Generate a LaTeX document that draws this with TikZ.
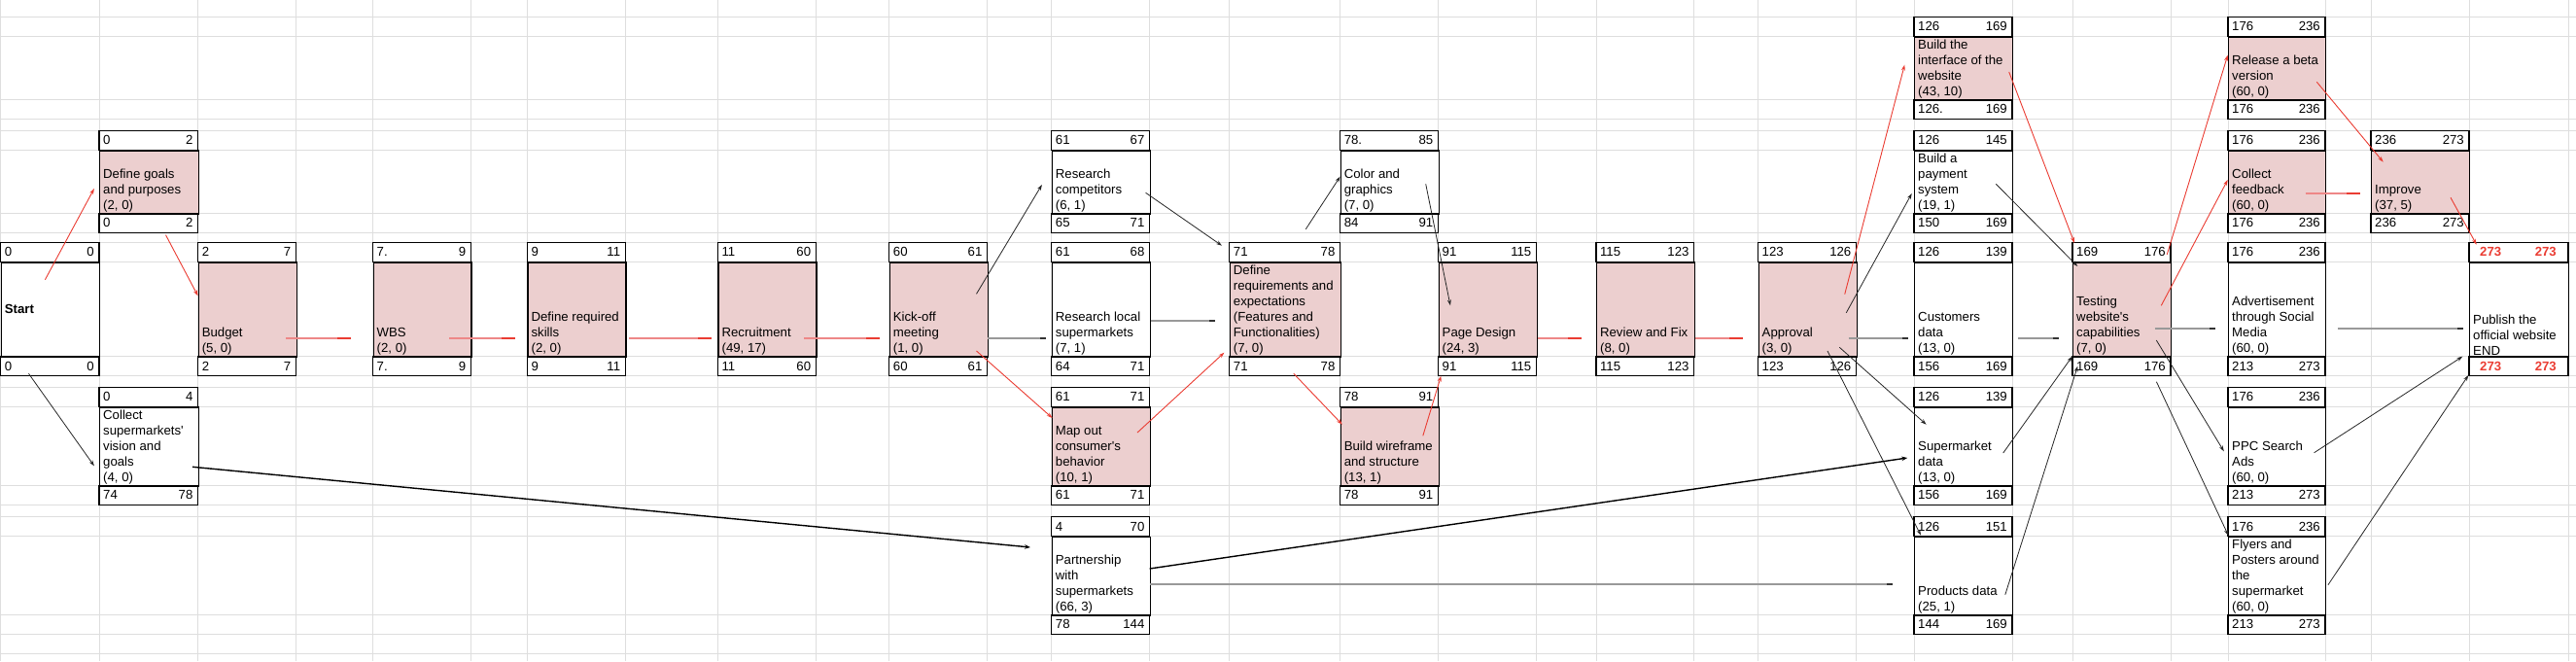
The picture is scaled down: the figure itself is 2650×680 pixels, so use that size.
\documentclass[tikz,border=0pt]{standalone}
\usepackage{fontspec}
\newfontfamily\sheetfont{Liberation Sans}
\usetikzlibrary{arrows.meta}
\definecolor{critfill}{RGB}{236,207,207}
\definecolor{critred}{RGB}{234,60,50}
\definecolor{critlight}{RGB}{238,135,135}
\definecolor{gridgray}{RGB}{222,222,222}
\newcommand{\critnum}{\hspace*{7pt}\textcolor{critred}{\bfseries 273}\hspace*{7pt}}

\begin{document}
\begin{tikzpicture}[x=1pt,y=-1pt,
  box/.style={draw=black,line width=1.2pt},
  num/.style={font=\sheetfont\fontsize{13.2}{16}\selectfont,inner sep=0pt},
  txt/.style={font=\sheetfont\fontsize{13.2}{16}\selectfont,inner sep=0pt,align=left,anchor=south west},
  critthin/.style={critred,line width=0.9pt,-{Stealth[length=6pt,width=4pt]}},
  critthick/.style={critlight,line width=2pt,-{Rectangle[length=14pt,width=2.2pt,color=critred]}},
  flow/.style={black!40,line width=2pt,-{Rectangle[length=6pt,width=2.2pt,color=black!80]}},
  dep/.style={black!85,line width=0.8pt,-{Stealth[length=6pt,width=4pt]}},
  depbold/.style={black,line width=1.4pt,-{Stealth[length=6pt,width=4.5pt]}}]

  \useasboundingbox (0,0) rectangle (2650,680);

  \foreach \gx in {0.5,102,203.6,304.5,383.5,484.4,542.4,643.3,738.4,839.3,914.7,1015.6,1081.7,1182.6,1264.7,1378.6,1479.5,1580.5,1641.9,1742.7,1808.5,1909.5,1969,2070,2132,2233,2292,2392,2439,2540,2642}
    \draw[gridgray,line width=0.8pt] (\gx,0) -- (\gx,680);
  \foreach \gy in {17.3,37.3,102.3,122.3,134.3,154.3,219.3,239.3,249.3,269.3,366.7,386.7,398.3,418.3,499.3,519.3,531.7,551.7,632.3,652.3,672.3}
    \draw[gridgray,line width=0.8pt] (0,\gy) -- (2650,\gy);

  \node[box,fill=white,minimum width=101.3pt,minimum height=97.4pt,anchor=north west,inner sep=0pt] (start) at (0.7,269.3) {};
  \draw[box] (0.7,249.3) rectangle ++(101.3,20);
  \draw[box] (0.7,366.7) rectangle ++(101.3,20);
  \node[num,anchor=west] (start-es) at (4.7,259.3) {0};
  \node[num,anchor=east] (start-ef) at (97,259.3) {0};
  \node[num,anchor=west] (start-ls) at (4.7,376.7) {0};
  \node[num,anchor=east] (start-lf) at (97,376.7) {0};
  \node[num,anchor=west,font=\sheetfont\fontsize{13.2}{16}\selectfont\bfseries] (start-t) at (4.7,318) {Start};

  \foreach \nm/\x/\y/\w/\h/\fc/\es/\ef/\ls/\lf/\lbl in {
    dg/102/134.3/101.6/65/critfill/0/2/0/2/{Define goals\\and purposes\\(2, 0)},
    collect/102/398.3/101.6/81/white/0/4/74/78/{Collect\\supermarkets'\\vision and\\goals\\(4, 0)},
    budget/203.6/249.3/100.9/97.4/critfill/2/7/2/7/{Budget\\(5, 0)},
    wbs/383.5/249.3/100.9/97.4/critfill/7./9/7./9/{WBS\\(2, 0)},
    skills/542.4/249.3/100.9/97.4/critfill/9/11/9/11/{Define required\\skills\\(2, 0)},
    recruit/738.4/249.3/100.9/97.4/critfill/11/60/11/60/{Recruitment\\(49, 17)},
    kickoff/914.7/249.3/100.9/97.4/critfill/60/61/60/61/{Kick-off\\meeting\\(1, 0)},
    rcomp/1081.7/134.3/100.9/65/white/61/67/65/71/{Research\\competitors\\(6, 1)},
    rlocal/1081.7/249.3/100.9/97.4/white/61/68/64/71/{Research local\\supermarkets\\(7, 1)},
    mapout/1081.7/398.3/100.9/81/critfill/61/71/61/71/{Map out\\consumer's\\behavior\\(10, 1)},
    partner/1081.7/531.7/100.9/80.6/white/4/70/78/144/{Partnership\\with\\supermarkets\\(66, 3)},
    defreq/1264.7/249.3/113.9/97.4/critfill/71/78/71/78/{Define\\requirements and\\expectations\\(Features and\\Functionalities)\\(7, 0)},
    color/1378.6/134.3/100.9/65/white/78./85/84/91/{Color and\\graphics\\(7, 0)},
    wire/1378.6/398.3/100.9/81/critfill/78/91/78/91/{Build wireframe\\and structure\\(13, 1)},
    page/1479.5/249.3/101/97.4/critfill/91/115/91/115/{Page Design\\(24, 3)},
    review/1641.9/249.3/100.8/97.4/critfill/115/123/115/123/{Review and Fix\\(8, 0)},
    approval/1808.5/249.3/101/97.4/critfill/123/126/123/126/{Approval\\(3, 0)},
    iface/1969/17.3/101/65/critfill/126/169/126./169/{Build the\\interface of the\\website\\(43, 10)},
    payment/1969/134.3/101/65/white/126/145/150/169/{Build a\\payment\\system\\(19, 1)},
    customers/1969/249.3/101/97.4/white/126/139/156/169/{Customers\\data\\(13, 0)},
    smdata/1969/398.3/101/81/white/126/139/156/169/{Supermarket\\data\\(13, 0)},
    products/1969/531.7/101/80.6/white/126/151/144/169/{Products data\\(25, 1)},
    testing/2132/249.3/101/97.4/critfill/169/176/169/176/{Testing\\website's\\capabilities\\(7, 0)},
    beta/2292/17.3/100/65/critfill/176/236/176/236/{Release a beta\\version\\(60, 0)},
    feedback/2292/134.3/100/65/critfill/176/236/176/236/{Collect\\feedback\\(60, 0)},
    ads/2292/249.3/100/97.4/white/176/236/213/273/{Advertisement\\through Social\\Media\\(60, 0)},
    ppc/2292/398.3/100/81/white/176/236/213/273/{PPC Search\\Ads\\(60, 0)},
    flyers/2292/531.7/100/80.6/white/176/236/213/273/{Flyers and\\Posters around\\the\\supermarket\\(60, 0)},
    improve/2439/134.3/101/65/critfill/236/273/236/273/{Improve\\(37, 5)},
    publish/2540/249.3/102/97.4/white/\critnum/\critnum/\critnum/\critnum/{Publish the\\official website\\END}}
  {
    \node[box,fill=\fc,minimum width=\w pt,minimum height=\h pt,anchor=north west,inner sep=0pt] (\nm) at (\x,\y+20) {};
    \draw[box] (\x,\y) rectangle ++(\w,20);
    \draw[box] (\x,\y+20+\h) rectangle ++(\w,20);
    \node[num,anchor=west] (\nm-es) at (\x+4,\y+10) {\es};
    \node[num,anchor=east] (\nm-ef) at (\x+\w-5,\y+10) {\ef};
    \node[num,anchor=west] (\nm-ls) at (\x+4,\y+30+\h) {\ls};
    \node[num,anchor=east] (\nm-lf) at (\x+\w-5,\y+30+\h) {\lf};
    \node[txt] (\nm-t) at (\x+4,\y+20+\h-1.2) {\lbl};
  }

  \foreach \src/\sx/\sy/\dst/\dx/\dy in {budget/90.4/78.4/wbs/-22.8/78.4, wbs/78.5/78.4/skills/-12.4/78.4,
      skills/104.6/78.4/recruit/-6.4/78.4, recruit/88.8/78.4/kickoff/-10.2/78.4,
      page/102.5/78.4/review/-15.2/78.4, review/102.5/78.4/approval/-15.1/78.4,
      feedback/79.7/44.7/improve/-11.3/44.7}
    \draw[critthick] ([shift={(\sx,\sy)}]\src.north west) -- ([shift={(\dx,\dy)}]\dst.north west);

  \foreach \src/\sx/\sy/\dst/\dx/\dy in {kickoff/100.9/78.4/rlocal/-5.4/78.4, rlocal/101.8/60.7/defreq/-14.3/60.7,
      approval/93.2/78.7/customers/-5.7/78.7, customers/107/78.7/testing/-14.3/78.7,
      partner/100.9/49/products/-22/49, testing/84.7/68.4/ads/-13/68.4, ads/113/68.4/publish/-6/68.4}
    \draw[flow] ([shift={(\sx,\sy)}]\src.north west) -- ([shift={(\dx,\dy)}]\dst.north west);

  \foreach \src/\sx/\sy/\dst/\dx/\dy in {start/45.7/18.4/dg/-5.1/39.7, dg/68.5/87.4/budget/0/35,
      kickoff/89.8/91.7/mapout/0.9/11.7, mapout/88.3/26.7/defreq/-5.3/93.4,
      defreq/66.1/115/wire/2.2/18.4, wire/85.2/30/page/2.9/117.4,
      approval/89.2/33.4/iface/-9.7/29.4, iface/97.7/36.7/testing/2/-19.3,
      testing/97.3/-7.6/beta/-0.3/19.4, testing/91.3/45/feedback/-0.3/30.7,
      beta/91.3/47/improve/12.7/12.4, improve/82/49/publish/7.7/-17.6}
    \draw[critthin] ([shift={(\sx,\sy)}]\src.north west) -- ([shift={(\dx,\dy)}]\dst.north west);

  \foreach \src/\sx/\sy/\dst/\dx/\dy in {start/28.8/115/collect/-5.1/61, kickoff/89.8/33/rcomp/-9.8/35.7,
      rcomp/96.9/44/defreq/-7.7/-16.6, defreq/78.6/-33.6/color/0/27.4, color/88.1/35/page/12.5/45,
      approval/90.8/52.4/payment/-2.3/44.7, approval/83.8/88/smdata/12.6/18.4,
      approval/71.5/91.7/products/7/-1, payment/84.3/35/testing/5.3/4.7,
      smdata/91.7/47.7/testing/-0.3/97.4, products/93.8/60/testing/5.3/107.4,
      testing/86.3/80.7/ppc/-4.2/46, testing/86.4/123.4/flyers/0.3/-1,
      ppc/88.6/47.4/publish/-6.7/97.4, flyers/102.9/50/publish/-0.7/116.7}
    \draw[dep] ([shift={(\sx,\sy)}]\src.north west) -- ([shift={(\dx,\dy)}]\dst.north west);

  \foreach \src/\sx/\sy/\dst/\dx/\dy in {collect/96/62/partner/-21.7/11.3, partner/100.9/33.3/smdata/-6.8/52.7}
    \draw[depbold] ([shift={(\sx,\sy)}]\src.north west) -- ([shift={(\dx,\dy)}]\dst.north west);

\end{tikzpicture}
\end{document}
